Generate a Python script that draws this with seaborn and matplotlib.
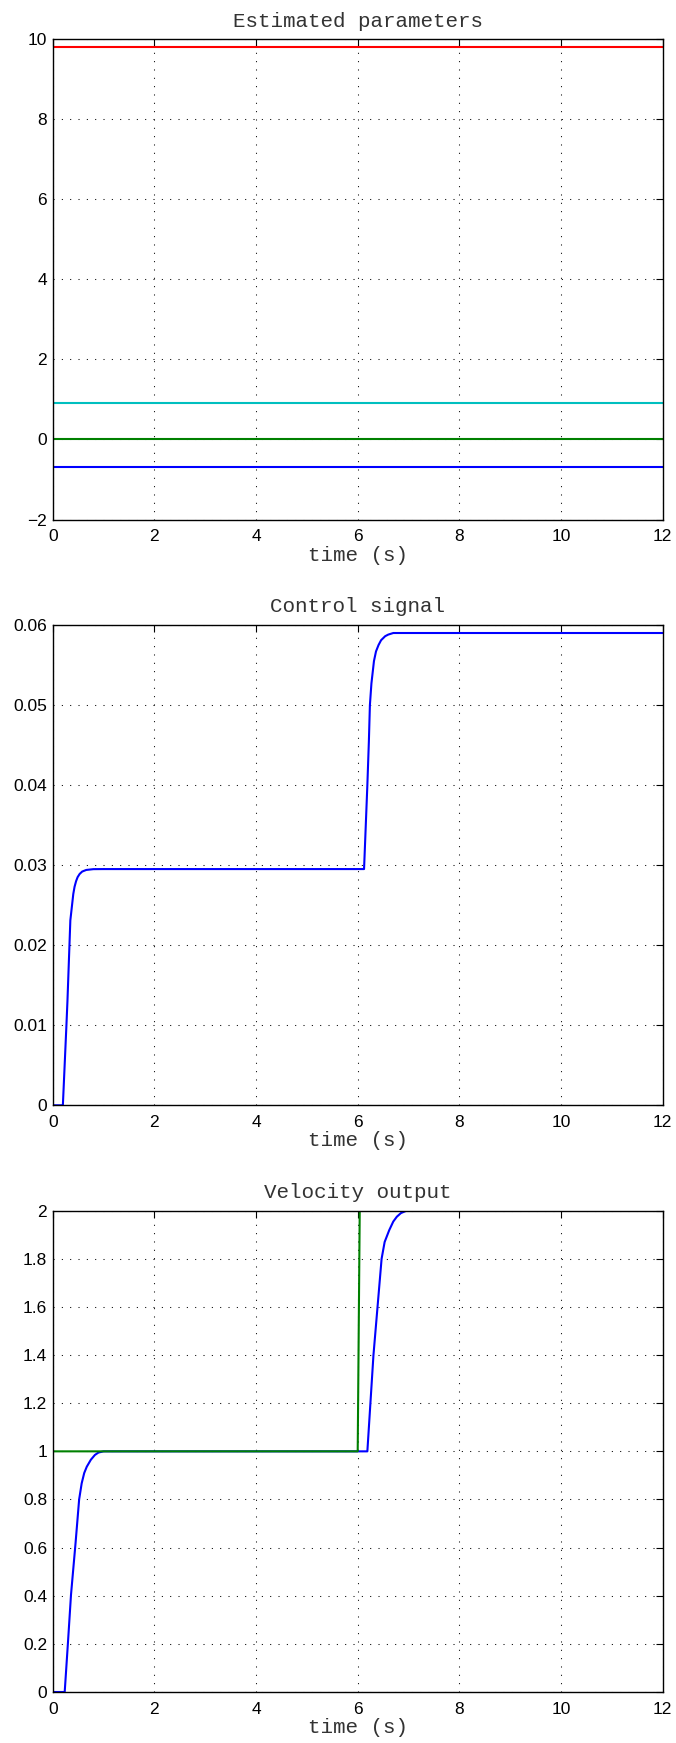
import numpy as np
import pandas as pd
import matplotlib
matplotlib.use("Agg")
import matplotlib.pyplot as plt
from matplotlib.ticker import FuncFormatter
import seaborn as sns

# ---------------- data ----------------
t_end = [0.0, 12.0]
param_names = ["p1", "p2", "p3", "p4"]
param_values = [-0.69, 0.0, 9.80, 0.92]
param_colors = ["#0000ff", "#008000", "#ff0000", "#00bfbf"]

ctrl_t = [0.0, 0.20, 0.27, 0.29, 0.347, 0.405, 0.43, 0.46, 0.49, 0.53, 0.58, 0.66, 0.80, 1.0,
          6.125, 6.19, 6.22, 6.24, 6.27, 6.32, 6.36, 6.41, 6.46, 6.54, 6.60, 6.70, 12.0]
ctrl_u = [0.0, 0.0, 0.010, 0.013, 0.0231, 0.0264, 0.0273, 0.0280, 0.0285, 0.0289, 0.0292, 0.0294, 0.02950, 0.02951,
          0.02951, 0.040, 0.0455, 0.050, 0.0527, 0.0555, 0.0567, 0.0575, 0.0581, 0.0586, 0.0588, 0.0590, 0.0590]

vel_t = [0.0, 0.236, 0.30, 0.36, 0.45, 0.52, 0.57, 0.62, 0.67, 0.75, 0.83, 0.90, 1.0,
         6.19, 6.25, 6.31, 6.39, 6.47, 6.53, 6.62, 6.70, 6.77, 6.85, 6.96, 12.0]
vel_y = [0.0, 0.0, 0.205, 0.404, 0.62, 0.80, 0.867, 0.91, 0.936, 0.965, 0.985, 0.995, 1.0,
         1.0, 1.20, 1.40, 1.60, 1.80, 1.87, 1.919, 1.955, 1.975, 1.99, 2.0, 2.0]

ref_t = [0.0, 6.0, 6.04, 12.0]
ref_y = [1.0, 1.0, 2.0, 2.0]

titles = ["Estimated parameters", "Control signal", "Velocity output"]
xlabel = "time (s)"
xticks = [0, 2, 4, 6, 8, 10, 12]
yticks1 = [-2, 0, 2, 4, 6, 8, 10]
yticks2 = [0, 0.01, 0.02, 0.03, 0.04, 0.05, 0.06]
yticks3 = [0, 0.2, 0.4, 0.6, 0.8, 1.0, 1.2, 1.4, 1.6, 1.8, 2.0]

# ---------------- style ----------------
sns.set_style("white")
plt.rcParams["font.family"] = ["Liberation Sans", "DejaVu Sans"]
plt.rcParams["axes.unicode_minus"] = True

fig = plt.figure(figsize=(6.76, 17.43), dpi=100)
W, H = 676.0, 1743.0
left = 52.7 / W
width = (662.7 - 52.7) / W
tops = [39.3, 625.0, 1210.7]
bots = [519.5, 1105.3, 1692.0]
axes = []
for tp, bt in zip(tops, bots):
    axes.append(fig.add_axes([left, 1 - bt / H, width, (bt - tp) / H]))

mono = ["Liberation Mono", "DejaVu Sans Mono"]

def style(ax, yticks, ylim, title):
    ax.set_xlim(0, 12)
    ax.set_ylim(*ylim)
    ax.set_xticks(xticks)
    ax.set_yticks(yticks)
    ax.xaxis.set_major_formatter(FuncFormatter(lambda v, p: "%g" % v))
    ax.yaxis.set_major_formatter(FuncFormatter(lambda v, p: ("%g" % v).replace("-", "\u2212")))
    ax.tick_params(direction="in", length=5, width=0.8, top=True, right=True,
                   labelsize=12.5, colors="black", pad=4)
    ax.tick_params(axis="x", pad=7)
    ax.grid(True, color="black", linestyle=(0, (1, 7)), linewidth=0.75)
    for s in ax.spines.values():
        s.set_color("black")
        s.set_linewidth(1.0)
        s.set_visible(True)
    ax.set_title(title, family=mono, fontsize=15, color="#333333", pad=9)
    ax.set_xlabel(xlabel, family=mono, fontsize=15, color="#333333", labelpad=1)
    ax.set_ylabel("")

# Panel 1: estimated parameters
ax = axes[0]
for name, val, col in zip(param_names, param_values, param_colors):
    df = pd.DataFrame({"t": t_end, "v": [val, val]})
    sns.lineplot(data=df, x="t", y="v", ax=ax, color=col, linewidth=1.5,
                 estimator=None, sort=False)
style(ax, yticks1, (-2, 10), titles[0])

# Panel 2: control signal
ax = axes[1]
df = pd.DataFrame({"t": ctrl_t, "u": ctrl_u})
sns.lineplot(data=df, x="t", y="u", ax=ax, color="#0000ff", linewidth=1.5,
             estimator=None, sort=False)
style(ax, yticks2, (0, 0.06), titles[1])

# Panel 3: velocity output
ax = axes[2]
df_ref = pd.DataFrame({"t": ref_t, "y": ref_y})
df_vel = pd.DataFrame({"t": vel_t, "y": vel_y})
sns.lineplot(data=df_vel, x="t", y="y", ax=ax, color="#0000ff", linewidth=1.5,
             estimator=None, sort=False)
sns.lineplot(data=df_ref, x="t", y="y", ax=ax, color="#008000", linewidth=1.5,
             estimator=None, sort=False)
style(ax, yticks3, (0, 2), titles[2])

fig.savefig("out.png", dpi=100, facecolor="white")
